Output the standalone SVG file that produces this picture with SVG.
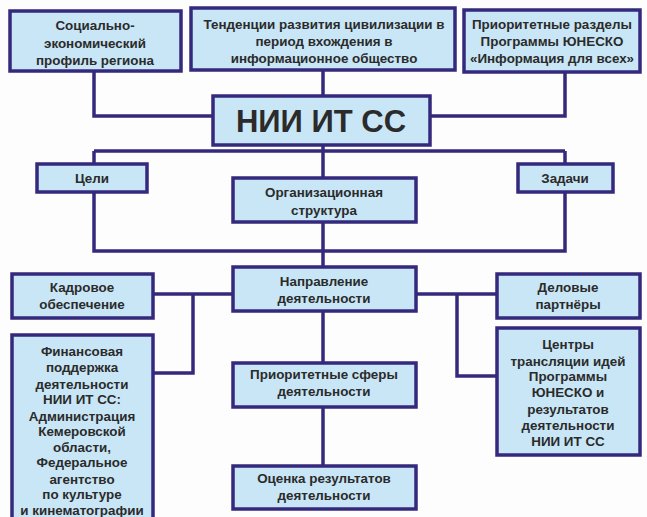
<svg xmlns="http://www.w3.org/2000/svg" width="647" height="517" viewBox="0 0 647 517">
<style>
.box{fill:#c9e6f6;stroke:#35297e;stroke-width:3.5}
.t{font-family:"Liberation Sans",Arial,sans-serif;font-weight:bold;font-size:13.4px;fill:#2b2b2b;text-anchor:middle}
.big{font-size:31px}
.c{fill:none;stroke:#35297e;stroke-width:3.5;stroke-linejoin:miter}
</style>
<rect width="647" height="517" fill="#fdfdfd"/>
<g id="connectors">
<polyline class="c" points="94,71 94,116 213,116"/>
<polyline class="c" points="323,70 323,96"/>
<polyline class="c" points="565,72 565,116 430,116"/>
<polyline class="c" points="323,145 323,178"/>
<polyline class="c" points="94,151 565,151"/>
<polyline class="c" points="94,151 94,164"/>
<polyline class="c" points="565,151 565,164"/>
<polyline class="c" points="94,192 94,251 565,251 565,192"/>
<polyline class="c" points="323,222 323,267"/>
<polyline class="c" points="153,294 233,294"/>
<polyline class="c" points="193,294 193,373 153,373"/>
<polyline class="c" points="416,294 497,294"/>
<polyline class="c" points="457,294 457,376 497,376"/>
<polyline class="c" points="323,311 323,363"/>
<polyline class="c" points="323,407 323,466"/>
</g>
<g id="n-profile">
<rect class="box" x="10" y="11" width="171" height="60"/>
<text class="t" x="95" y="30">Социально-</text>
<text class="t" x="95" y="48">экономический</text>
<text class="t" x="95" y="65">профиль региона</text>
</g>
<g id="n-trends">
<rect class="box" x="191" y="8" width="264" height="62"/>
<text class="t" x="324" y="29">Тенденции развития цивилизации в</text>
<text class="t" x="324" y="46">период вхождения в</text>
<text class="t" x="324" y="63">информационное общество</text>
</g>
<g id="n-unesco">
<rect class="box" x="464" y="10" width="176" height="62"/>
<text class="t" x="552" y="29">Приоритетные разделы</text>
<text class="t" x="552" y="46">Программы ЮНЕСКО</text>
<text class="t" x="552" y="63">«Информация для всех»</text>
</g>
<g id="n-center">
<rect class="box" x="213" y="96" width="217" height="49"/>
<text class="t big" x="321" y="132">НИИ ИТ СС</text>
</g>
<g id="n-goals">
<rect class="box" x="37" y="164" width="110" height="28"/>
<text class="t" x="92" y="183">Цели</text>
</g>
<g id="n-tasks">
<rect class="box" x="518" y="164" width="95" height="28"/>
<text class="t" x="565" y="183">Задачи</text>
</g>
<g id="n-org">
<rect class="box" x="233" y="178" width="183" height="44"/>
<text class="t" x="324" y="197">Организационная</text>
<text class="t" x="324" y="215">структура</text>
</g>
<g id="n-direction">
<rect class="box" x="233" y="267" width="183" height="44"/>
<text class="t" x="324" y="286">Направление</text>
<text class="t" x="324" y="303">деятельности</text>
</g>
<g id="n-staff">
<rect class="box" x="12" y="274" width="141" height="44"/>
<text class="t" x="82" y="292">Кадровое</text>
<text class="t" x="82" y="309">обеспечение</text>
</g>
<g id="n-partners">
<rect class="box" x="497" y="274" width="143" height="44"/>
<text class="t" x="568" y="292">Деловые</text>
<text class="t" x="568" y="309">партнёры</text>
</g>
<g id="n-finance">
<rect class="box" x="12" y="335" width="141" height="200"/>
<text class="t" x="82" y="356">Финансовая</text>
<text class="t" x="82" y="372">поддержка</text>
<text class="t" x="82" y="389">деятельности</text>
<text class="t" x="82" y="404">НИИ ИТ СС:</text>
<text class="t" x="82" y="421">Администрация</text>
<text class="t" x="82" y="436">Кемеровской</text>
<text class="t" x="82" y="452">области,</text>
<text class="t" x="82" y="467">Федеральное</text>
<text class="t" x="82" y="484">агентство</text>
<text class="t" x="82" y="499">по культуре</text>
<text class="t" x="82" y="515">и кинематографии</text>
</g>
<g id="n-centers">
<rect class="box" x="497" y="328" width="143" height="127"/>
<text class="t" x="568" y="349">Центры</text>
<text class="t" x="568" y="366">трансляции идей</text>
<text class="t" x="568" y="381">Программы</text>
<text class="t" x="568" y="397">ЮНЕСКО и</text>
<text class="t" x="568" y="414">результатов</text>
<text class="t" x="568" y="430">деятельности</text>
<text class="t" x="568" y="446">НИИ ИТ СС</text>
</g>
<g id="n-spheres">
<rect class="box" x="233" y="363" width="183" height="44"/>
<text class="t" x="324" y="379">Приоритетные сферы</text>
<text class="t" x="324" y="396">деятельности</text>
</g>
<g id="n-evaluation">
<rect class="box" x="233" y="466" width="183" height="43"/>
<text class="t" x="324" y="483">Оценка результатов</text>
<text class="t" x="324" y="500">деятельности</text>
</g>
</svg>
